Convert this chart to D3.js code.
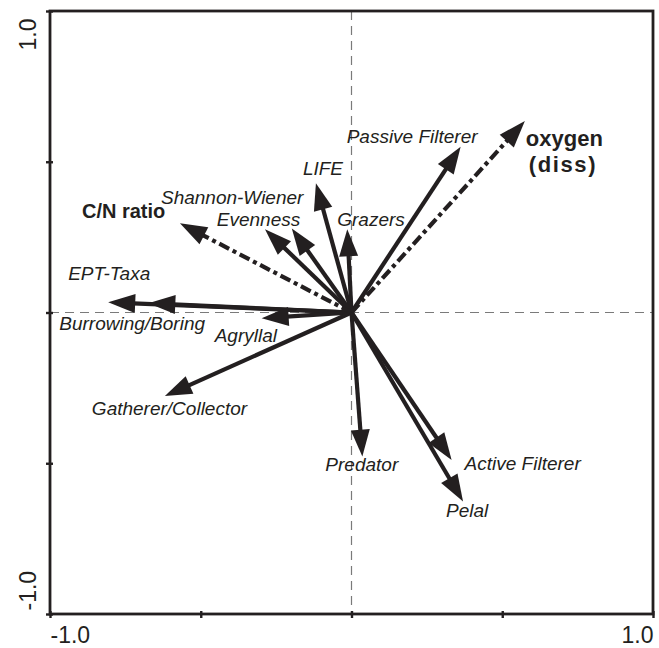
<!DOCTYPE html>
<html>
<head>
<meta charset="utf-8">
<script src="https://cdn.jsdelivr.net/npm/d3@7"></script>
<style>
  html, body { margin: 0; padding: 0; background: #fff; }
  svg text { font-family: "Liberation Sans", Arial, Helvetica, sans-serif; fill: #231f20; }
</style>
</head>
<body>
<svg id="chart" width="659" height="648"></svg>
<script>
// ---- data (biplot scores) ----
const species = ["Passive Filterer", "LIFE", "Grazers", "Shannon-Wiener", "Evenness",
                 "EPT-Taxa", "Burrowing/Boring", "Agryllal", "Gatherer/Collector",
                 "Predator", "Active Filterer", "Pelal"];
const speciesX = [0.362, -0.118, -0.014, -0.287, -0.198, -0.807, -0.674, -0.298, -0.619, 0.036, 0.332, 0.370];
const speciesY = [0.550, 0.429, 0.276, 0.276, 0.279, 0.034, 0.031, -0.019, -0.277, -0.478, -0.489, -0.627];

const envVars = ["C/N ratio", "oxygen (diss)"];
const envX = [-0.569, 0.575];
const envY = [0.296, 0.635];

const axisTicks = [-1, -0.5, 0, 0.5, 1];
const axisTickLabels = ["-1.0", "", "", "", "1.0"];

// ---- layout (label offsets from arrow tips, px) ----
const labelOffset = {
  "Passive Filterer": [-114, -4],
  "LIFE": [-13, -8],
  "Grazers": [-10, -3],
  "Shannon-Wiener": [-104, -25],
  "Evenness": [-75, -2],
  "EPT-Taxa": [-40, -22],
  "Burrowing/Boring": [-89, 27],
  "Agryllal": [-47, 24],
  "Gatherer/Collector": [-73, 19],
  "Predator": [-37, 14],
  "Active Filterer": [13, 10],
  "Pelal": [-17, 15],
  "C/N ratio": [-98, -5],
  "oxygen (diss)": [1, 25]
};

const svg = d3.select("#chart");
const pLeft = 50, pRight = 653, pTop = 11, pBottom = 614;
const x = d3.scaleLinear().domain([-1, 1]).range([pLeft, pRight]);
const y = d3.scaleLinear().domain([-1, 1]).range([pBottom, pTop]);
const ink = "#231f20";

// dashed zero lines
svg.append("line").attr("x1", pLeft).attr("x2", pRight).attr("y1", y(0)).attr("y2", y(0))
  .attr("stroke", "#7a7a7a").attr("stroke-width", 1.2).attr("stroke-dasharray", "9,6");
svg.append("line").attr("x1", x(0)).attr("x2", x(0)).attr("y1", pTop).attr("y2", pBottom)
  .attr("stroke", "#7a7a7a").attr("stroke-width", 1.2).attr("stroke-dasharray", "9,6");

// axes
const xAxis = d3.axisBottom(x).tickValues(axisTicks).tickSizeInner(4).tickSizeOuter(0)
  .tickFormat((d, i) => axisTickLabels[i]);
const gx = svg.append("g").attr("transform", `translate(0,${pBottom})`).call(xAxis);
const yAxis = d3.axisLeft(y).tickValues(axisTicks).tickSizeInner(4).tickSizeOuter(0)
  .tickFormat((d, i) => axisTickLabels[i]);
const gy = svg.append("g").attr("transform", `translate(${pLeft},0)`).call(yAxis);
gx.select(".domain").remove();
gy.select(".domain").remove();
gx.selectAll(".tick line").attr("stroke", ink).attr("stroke-width", 2.4).attr("y1", -3);
gy.selectAll(".tick line").attr("stroke", ink).attr("stroke-width", 2.4).attr("x1", 3);
[gx, gy].forEach(g => {
  g.selectAll(".tick text").attr("font-size", 23).attr("fill", ink)
    .attr("font-family", "'Liberation Sans', Arial, sans-serif");
});
gx.selectAll(".tick text").attr("y", 0).attr("dy", 0)
  .attr("transform", "translate(0,29)")
  .attr("text-anchor", (d, i) => i === 0 ? "start" : "end");
gy.selectAll(".tick text").attr("x", 0).attr("dy", 0)
  .attr("text-anchor", (d, i) => i === 0 ? "start" : "end")
  .attr("transform", (d, i) => `translate(-14,${i === 0 ? -4 : 7}) rotate(-90)`);

// frame
svg.append("rect").attr("x", pLeft).attr("y", pTop).attr("width", pRight - pLeft).attr("height", pBottom - pTop)
  .attr("fill", "none").attr("stroke", ink).attr("stroke-width", 2.8);

// arrows
const headLen = 27, headHalf = 9.5;
function drawArrow(vx, vy, dashed) {
  const x0 = x(0), y0 = y(0), x1 = x(vx), y1 = y(vy);
  const dx = x1 - x0, dy = y1 - y0, len = Math.hypot(dx, dy);
  const ux = dx / len, uy = dy / len;
  const bx = x1 - ux * (headLen - 2), by = y1 - uy * (headLen - 2);
  svg.append("line").attr("x1", x0).attr("y1", y0).attr("x2", bx).attr("y2", by)
    .attr("stroke", ink).attr("stroke-width", 4.2)
    .attr("stroke-dasharray", dashed ? "11,4,4,4" : null);
  const hb = [x1 - ux * headLen, y1 - uy * headLen];
  const pts = [[x1, y1], [hb[0] - uy * headHalf, hb[1] + ux * headHalf], [hb[0] + uy * headHalf, hb[1] - ux * headHalf]];
  svg.append("path").attr("d", d3.line()(pts) + "Z").attr("fill", ink);
}
species.forEach((s, i) => drawArrow(speciesX[i], speciesY[i], false));
envVars.forEach((s, i) => drawArrow(envX[i], envY[i], true));

// labels
species.forEach((s, i) => {
  const o = labelOffset[s];
  svg.append("text").attr("x", x(speciesX[i]) + o[0]).attr("y", y(speciesY[i]) + o[1])
    .attr("font-size", 19).attr("font-style", "italic").text(s);
});
envVars.forEach((s, i) => {
  const o = labelOffset[s];
  const parts = s === "oxygen (diss)" ? ["oxygen", "(diss)"] : [s];
  const t = svg.append("text").attr("x", x(envX[i]) + o[0]).attr("y", y(envY[i]) + o[1])
    .attr("font-size", s === "C/N ratio" ? 20 : 22).attr("font-weight", "bold");
  parts.forEach((p, k) => {
    t.append("tspan").attr("x", x(envX[i]) + o[0] + (k ? 3 : 0)).attr("dy", k ? 26 : 0)
      .attr("letter-spacing", k ? 1.6 : 0).text(p);
  });
});
</script>
</body>
</html>
